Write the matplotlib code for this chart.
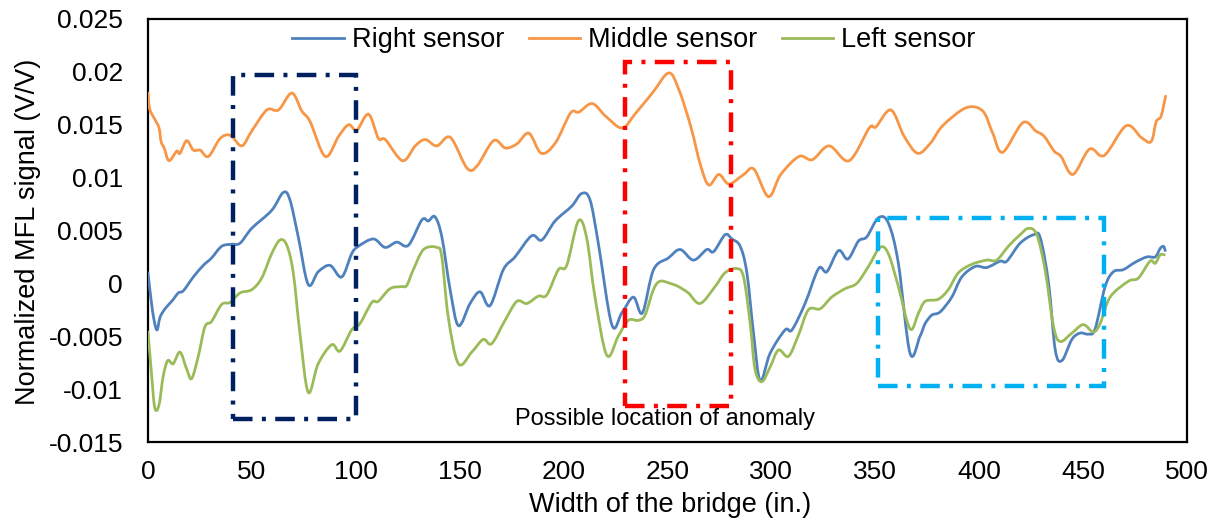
import matplotlib
matplotlib.use("Agg")
import matplotlib.pyplot as plt
from matplotlib.patches import Rectangle, PathPatch
from matplotlib.path import Path
from matplotlib.lines import Line2D

plt.rcParams['font.family'] = ['Liberation Sans', 'DejaVu Sans']

# ---------------- data ----------------
mid_x = [0, 0.8, 3.3, 5.3, 6.3, 7.8, 10.1, 13.8, 15.4, 18.6, 21.8, 25.1, 29.1, 34.7, 39.6,
         45.1, 49.9, 57.2, 62.8, 69.2, 74.0, 78.0, 85.3, 91.7, 96.5, 100.5, 106.1, 110.9,
         114.2, 122.5, 128.6, 133.4, 139.0, 145.5, 153.5, 158.3, 166.3, 172.0, 177.6, 183.3,
         189.3, 196.1, 203.3, 207.4, 213.8, 220.3, 228.2, 234.7, 242.7, 250.6, 255.5, 261.1,
         266.0, 269.9, 274.7, 279.6, 286.7, 291.6, 298.6, 304.5, 313.3, 319.7, 327.8, 337.4,
         347.1, 350.3, 357.5, 363.9, 370.4, 376.7, 382.4, 393.6, 401.7, 406.5, 411.3, 421.0,
         427.3, 431.3, 436.1, 439.4, 445.1, 453.1, 460.2, 470.7, 478.0, 482.7, 485.2, 487.5,
         489.7]
mid_y = [0.0180, 0.0165, 0.0155, 0.0147, 0.0134, 0.0128, 0.0116, 0.0125, 0.0123, 0.0135,
         0.0126, 0.0126, 0.0120, 0.0137, 0.0140, 0.0130, 0.0144, 0.0164, 0.0164, 0.0180,
         0.0163, 0.0153, 0.0120, 0.0139, 0.0150, 0.0145, 0.0160, 0.0137, 0.0136, 0.0116,
         0.0130, 0.0136, 0.0130, 0.0138, 0.0109, 0.0111, 0.0135, 0.0128, 0.0132, 0.0142,
         0.0123, 0.0133, 0.0161, 0.0162, 0.0170, 0.0158, 0.0147, 0.0161, 0.0180, 0.0199,
         0.0183, 0.0149, 0.0111, 0.0093, 0.0103, 0.0094, 0.0103, 0.0108, 0.0082, 0.0103,
         0.0120, 0.0117, 0.0130, 0.0116, 0.0147, 0.0148, 0.0164, 0.0139, 0.0123, 0.0133,
         0.0149, 0.0166, 0.0163, 0.0142, 0.0124, 0.0152, 0.0144, 0.0139, 0.0125, 0.0120,
         0.0103, 0.0127, 0.0121, 0.0149, 0.0138, 0.0134, 0.0153, 0.0158, 0.0177]

right_x = [0, 2.1, 4.2, 5.8, 8.2, 11.4, 14.6, 17.0, 21.8, 26.6, 30.6, 35.4, 40.2, 44.3, 49.9,
           59.5, 65.1, 68.3, 72.3, 77.1, 81.9, 87.6, 93.2, 98.0, 101.2, 108.5, 114.1, 119.7,
           125.3, 131.8, 134.9, 138.1, 141.4, 145.4, 149.4, 155.0, 159.8, 164.6, 171.0, 176.6,
           184.6, 189.5, 195.9, 203.9, 208.7, 212.7, 216.7, 223.2, 228.0, 233.6, 237.9, 243.3,
           250.4, 256.1, 262.5, 268.9, 272.2, 277.7, 281.0, 285.0, 288.2, 291.4, 294.6, 299.4,
           306.6, 309.9, 316.2, 322.7, 326.7, 332.3, 336.8, 341.9, 345.9, 351.5, 356.3, 361.1,
           366.7, 371.5, 374.0, 377.2, 381.2, 386.8, 391.6, 398.1, 403.6, 410.1, 413.3, 419.7,
           426.2, 429.4, 433.4, 436.6, 439.8, 444.6, 448.6, 452.6, 455.8, 460.6, 464.6, 469.4,
           475.1, 480.7, 484.7, 487.1, 488.7, 489.5]
right_y = [0.0010, -0.0025, -0.0044, -0.0032, -0.0024, -0.0017, -0.0009, -0.0007, 0.0006,
           0.0017, 0.0024, 0.0035, 0.0037, 0.0038, 0.0052, 0.0069, 0.0086, 0.0079, 0.0044,
           -0.0001, 0.0011, 0.0017, 0.0006, 0.0028, 0.0035, 0.0042, 0.0034, 0.0039, 0.0036,
           0.0060, 0.0059, 0.0063, 0.0044, -0.0006, -0.0040, -0.0019, -0.0008, -0.0021,
           0.0013, 0.0025, 0.0045, 0.0041, 0.0059, 0.0073, 0.0085, 0.0079, 0.0038, -0.0039,
           -0.0028, -0.0013, -0.0028, 0.0013, 0.0024, 0.0032, 0.0022, 0.0032, 0.0030, 0.0046,
           0.0042, 0.0035, 0.0010, -0.0047, -0.0092, -0.0066, -0.0044, -0.0044, -0.0019,
           0.0014, 0.0011, 0.0031, 0.0023, 0.0040, 0.0044, 0.0062, 0.0057, 0.0019, -0.0066,
           -0.0050, -0.0038, -0.0030, -0.0027, -0.0013, 0.0006, 0.0016, 0.0015, 0.0021,
           0.0021, 0.0038, 0.0046, 0.0043, 0.0000, -0.0063, -0.0073, -0.0053, -0.0047,
           -0.0048, -0.0043, -0.0003, 0.0011, 0.0013, 0.0020, 0.0025, 0.0025, 0.0033, 0.0035,
           0.0031]

left_x = [0, 1.8, 3.3, 5.3, 7.3, 9.5, 12.1, 15.4, 18.6, 21.0, 24.2, 27.4, 30.6, 35.4, 39.5,
          44.3, 49.9, 54.7, 59.5, 63.5, 66.8, 69.9, 73.1, 77.1, 81.9, 88.4, 92.4, 98.0, 102.0,
          107.7, 110.8, 116.5, 122.1, 124.5, 127.7, 132.6, 139.0, 141.4, 144.5, 149.4, 155.8,
          161.3, 165.4, 171.8, 177.5, 182.3, 187.9, 191.9, 197.5, 201.5, 207.1, 211.1, 215.1,
          220.8, 226.3, 231.1, 235.9, 239.2, 243.2, 246.4, 251.2, 255.2, 260.0, 265.7, 272.9,
          277.7, 283.3, 286.6, 289.8, 292.1, 295.4, 299.4, 303.4, 308.2, 313.0, 317.8, 323.5,
          329.0, 335.5, 341.1, 346.7, 352.3, 356.3, 361.1, 366.7, 370.8, 374.0, 380.3, 385.1,
          390.0, 396.4, 403.6, 408.4, 414.0, 419.7, 423.7, 427.7, 431.7, 435.8, 439.0, 444.6,
          450.1, 454.9, 458.2, 463.0, 471.8, 476.6, 482.2, 484.7, 487.1, 489.1]
left_y = [-0.0046, -0.0088, -0.0118, -0.0115, -0.0088, -0.0073, -0.0076, -0.0065, -0.0081,
          -0.0090, -0.0069, -0.0041, -0.0036, -0.0020, -0.0018, -0.0009, -0.0006, 0.0005,
          0.0028, 0.0041, 0.0036, 0.0010, -0.0047, -0.0103, -0.0076, -0.0058, -0.0064,
          -0.0044, -0.0038, -0.0018, -0.0017, -0.0005, -0.0003, -0.0002, 0.0013, 0.0032,
          0.0034, 0.0025, -0.0032, -0.0076, -0.0065, -0.0053, -0.0057, -0.0035, -0.0017,
          -0.0019, -0.0012, -0.0011, 0.0013, 0.0017, 0.0059, 0.0043, -0.0013, -0.0068,
          -0.0050, -0.0035, -0.0035, -0.0030, -0.0006, 0.0002, 0.0000, -0.0003, -0.0009,
          -0.0019, -0.0003, 0.0010, 0.0014, 0.0006, -0.0038, -0.0081, -0.0093, -0.0079,
          -0.0063, -0.0069, -0.0049, -0.0025, -0.0024, -0.0013, -0.0005, 0.0000, 0.0016,
          0.0034, 0.0028, -0.0003, -0.0043, -0.0028, -0.0017, -0.0015, -0.0006, 0.0010,
          0.0018, 0.0022, 0.0022, 0.0035, 0.0046, 0.0052, 0.0046, 0.0013, -0.0041, -0.0055,
          -0.0047, -0.0039, -0.0046, -0.0038, -0.0013, 0.0002, 0.0005, 0.0021, 0.0019,
          0.0027, 0.0027]

series_names = ["Right sensor", "Middle sensor", "Left sensor"]
series_colors = ["#4F81BD", "#F79646", "#9BBB59"]

# highlighted regions: (x0, x1, y0, y1)
box_navy = (41.0, 100.0, -0.0128, 0.0197)
box_red = (229.6, 280.5, -0.0116, 0.0209)
box_cyan = (351.5, 460.0, -0.0097, 0.0062)
box_colors = ["#002060", "#FF0000", "#00B0F0"]

annotation_text = "Possible location of anomaly"
annotation_pos = (249, -0.0128)

x_ticks = [0, 50, 100, 150, 200, 250, 300, 350, 400, 450, 500]
y_ticks = [-0.015, -0.01, -0.005, 0, 0.005, 0.01, 0.015, 0.02, 0.025]
y_tick_labels = ["-0.015", "-0.01", "-0.005", "0", "0.005", "0.01", "0.015", "0.02", "0.025"]

x_label = "Width of the bridge (in.)"
y_label = "Normalized MFL signal (V/V)"


def smooth_path(xs, ys):
    """Smoothed line through the points (like a spreadsheet 'smoothed line'),
    drawn as cubic Bezier segments in data coordinates."""
    n = len(xs)
    verts = [(xs[0], ys[0])]
    codes = [Path.MOVETO]
    for i in range(n - 1):
        i0 = max(i - 1, 0)
        i3 = min(i + 2, n - 1)
        c1 = (xs[i] + (xs[i + 1] - xs[i0]) / 6.0, ys[i] + (ys[i + 1] - ys[i0]) / 6.0)
        c2 = (xs[i + 1] - (xs[i3] - xs[i]) / 6.0, ys[i + 1] - (ys[i3] - ys[i]) / 6.0)
        verts += [c1, c2, (xs[i + 1], ys[i + 1])]
        codes += [Path.CURVE4, Path.CURVE4, Path.CURVE4]
    return Path(verts, codes)


# ---------------- figure ----------------
W, H = 1217, 525
fig = plt.figure(figsize=(W / 100, H / 100), dpi=100)
ax_l, ax_r, ax_t, ax_b = 148, 1187, 19, 442
ax = fig.add_axes([ax_l / W, 1 - ax_b / H, (ax_r - ax_l) / W, (ax_b - ax_t) / H])

lw = 2.0
handles = []
for xs, ys, name, col in [(right_x, right_y, series_names[0], series_colors[0]),
                          (mid_x, mid_y, series_names[1], series_colors[1]),
                          (left_x, left_y, series_names[2], series_colors[2])]:
    ax.add_patch(PathPatch(smooth_path(xs, ys), fill=False, edgecolor=col, lw=lw,
                           joinstyle='round', capstyle='round', zorder=3))
    handles.append(Line2D([], [], color=col, lw=lw, label=name))

for (x0, x1, y0, y1), c in zip([box_navy, box_red, box_cyan], box_colors):
    r = Rectangle((x0, y0), x1 - x0, y1 - y0, fill=False, edgecolor=c, lw=3.2,
                  linestyle=(0, (4.4, 2.1, 0.9, 2.1)), capstyle='butt', zorder=4)
    ax.add_patch(r)

ax.text(annotation_pos[0], annotation_pos[1], annotation_text, ha='center', va='center',
        fontsize=17, color='black', zorder=5)

ax.set_xlim(0, 500)
ax.set_ylim(-0.015, 0.025)
ax.set_xticks(x_ticks)
ax.set_xticklabels([str(v) for v in x_ticks])
ax.set_yticks(y_ticks)
ax.set_yticklabels(y_tick_labels)
ax.tick_params(axis='both', length=0, labelsize=19)
ax.tick_params(axis='y', pad=18)
ax.tick_params(axis='x', pad=13)
for s in ax.spines.values():
    s.set_linewidth(1.6)
    s.set_color('black')

fig.text(670 / W, 1 - 505 / H, x_label, ha='center', va='center', fontsize=19.5)
fig.text(28 / W, 1 - 232 / H, y_label, ha='center', va='center', rotation=90, fontsize=19.5)

fig.legend(handles=handles, loc='center', bbox_to_anchor=(634 / W, 1 - 40 / H),
           ncol=3, frameon=False, fontsize=19.5, handlelength=1.9, handletextpad=0.3,
           columnspacing=0.9, borderpad=0, borderaxespad=0)

fig.savefig("out.png", dpi=100)
